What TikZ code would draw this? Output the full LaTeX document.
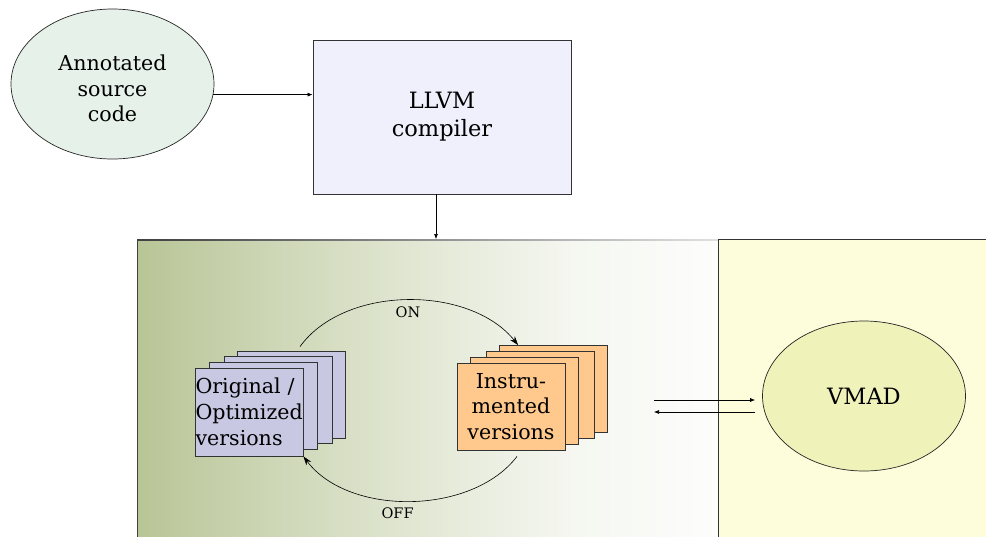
\documentclass[tikz,border=0pt]{standalone}
\usepackage{fontspec}
\setmainfont{DejaVu Serif}
\usetikzlibrary{shapes.geometric,arrows.meta,calc}
\definecolor{annfill}{HTML}{E6F1EA}
\definecolor{llvmfill}{HTML}{F0F0FC}
\definecolor{bluefill}{HTML}{C8C8E3}
\definecolor{orangefill}{HTML}{FFC88C}
\definecolor{vmadfill}{HTML}{EFF2B9}
\definecolor{yelfill}{HTML}{FDFDDC}
\definecolor{olive}{HTML}{B8C596}
\colorlet{olA}{olive!68!white}
\colorlet{olB}{olive!39!white}
\colorlet{olC}{olive!14!white}
\colorlet{olD}{olive!3!white}
\pgfdeclarehorizontalshading{panelshade}{100bp}{color(0bp)=(olive); color(25bp)=(olive); color(37.5bp)=(olA); color(50bp)=(olB); color(62.5bp)=(olC); color(75bp)=(olD); color(100bp)=(olD)}
\tikzset{
  bigtxt/.style={font=\fontsize{20.6}{25.8}\selectfont},
  hugetxt/.style={font=\fontsize{22.5}{28}\selectfont},
  smalltxt/.style={font=\fontsize{14.5}{17}\selectfont},
  ell/.style={ellipse, draw=black!85, line width=0.7pt, minimum width=203pt, minimum height=150pt, inner sep=0pt, align=center},
  card/.style={rectangle, draw=black!80, line width=0.8pt, minimum width=108pt, minimum height=87pt, inner sep=0pt},
  bluecard/.style={card, fill=bluefill},
  orcard/.style={card, fill=orangefill},
  arr/.style={-{Latex[length=5pt,width=4pt]}, line width=0.6pt},
  arcarr/.style={-{Stealth[length=9pt,width=6pt]}, line width=0.6pt},
}
\begin{document}
\begin{tikzpicture}[x=1pt,y=-1pt]
\useasboundingbox (0,0) rectangle (986,536);
% background panels
\node[rectangle, inner sep=0pt, outer sep=0pt, minimum width=581pt, minimum height=321pt, shading=panelshade] (rt) at (427.5,399.5) {};
\fill[left color=black!75, right color=black!12] (rt.north west) rectangle ([yshift=-1.2pt]rt.north east);
\draw[black!75, line width=0.8pt] (rt.north west) -- (rt.south west);
\node[rectangle, draw=black!80, line width=0.8pt, fill=yelfill, inner sep=0pt, minimum width=282pt, minimum height=321pt] (vb) at (859,399.5) {};
% top nodes
\node[ell, fill=annfill, bigtxt] (ann) at (112.5,84) {\raisebox{-7pt}[\height][\depth]{\begin{tabular}{@{}c@{}}Annotated\\source\\code\end{tabular}}};
\node[rectangle, draw=black!80, line width=0.8pt, fill=llvmfill, minimum width=258pt, minimum height=154pt, align=center, hugetxt] (llvm) at (442,117) {LLVM\\compiler};
\draw[arr] (ann.-6) -- (ann.-6 -| llvm.west);
\draw[arr] ([xshift=-6pt]llvm.south) -- ([xshift=-6pt]llvm.south |- rt.north);
% blue stack
\node[bluecard] (b4) at (291,394.5) {};
\node[bluecard] (b3) at (278,400) {};
\node[bluecard] (b2) at (263,406) {};
\node[bluecard, minimum height=88pt, text width=107pt, inner xsep=0.5pt, align=left, bigtxt] (b1) at (249,412) {Original /\\Optimized\\versions};
% orange stack
\node[orcard] (o4) at (553.5,389) {};
\node[orcard] (o3) at (540,394.5) {};
\node[orcard] (o2) at (524.5,400.5) {};
\node[orcard, align=center, bigtxt] (o1) at (511,406.5) {Instru-\\mented\\versions};
% VMAD
\node[ell, fill=vmadfill, hugetxt] (vmad) at (864,396) {VMAD};
% cycle arcs
\draw[arcarr] ([xshift=9pt,yshift=4pt]b4.north) .. controls +(45,-62) and +(-48,-60) .. ([xshift=19pt]o4.north west)
  node[pos=0.5, below=3pt, smalltxt] (on) {ON};
\draw[arcarr] ([xshift=6pt,yshift=-6pt]o1.south) .. controls +(-45,59) and +(45,60) .. (b1.south east)
  node[pos=0.55, below=3pt, smalltxt] (off) {OFF};
% exchange arrows
\coordinate (vl) at ([xshift=-7pt]vmad.west);
\coordinate (l1) at (654,400);
\coordinate (l2) at (654,412);
\draw[arr] (l1) -- (l1 -| vl);
\draw[arr] (l2 -| vl) -- (l2);
\end{tikzpicture}
\end{document}
